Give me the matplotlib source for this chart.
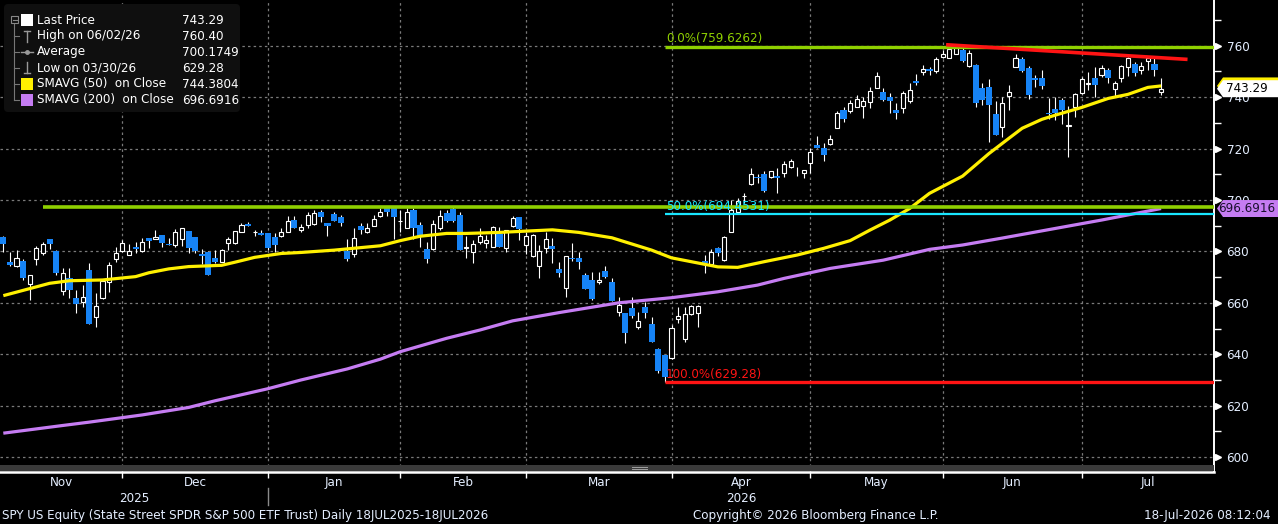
import numpy as np
import pandas as pd
import matplotlib
matplotlib.use('Agg')
import matplotlib.pyplot as plt
from matplotlib.patches import Rectangle, FancyBboxPatch, Polygon
from matplotlib.ticker import MultipleLocator

plt.rcParams['font.family'] = ['DejaVu Sans']
plt.rcParams['font.stretch'] = 'condensed'

# --- data -----------------------------------------------------------------
holidays = ['2025-11-27', '2025-12-25', '2026-01-01', '2026-01-19', '2026-02-16',
            '2026-04-03', '2026-05-25', '2026-06-19', '2026-07-03']
dates = pd.bdate_range('2025-11-03', '2026-07-17')
dates = dates[~dates.isin(pd.to_datetime(holidays))]

opens = [685.5, 675.9, 674.5, 676.3, 667.4, 676.9, 679.5, 684.8, 680.2, 664.7,
         669.5, 661.9, 660.5, 672.8, 654.6, 662.0, 668.2, 677.1, 680.3, 678.5,
         681.7, 680.3, 685.2, 685.0, 686.4, 683.0, 682.4, 684.7, 687.9, 685.6,
         679.0, 679.8, 677.4, 676.0, 683.4, 683.4, 687.7, 690.7, 687.4, 687.2,
         687.2, 685.6, 686.1, 687.7, 692.2, 688.4, 690.3, 690.5, 695.2, 691.0,
         694.5, 693.2, 680.3, 678.9, 689.9, 687.7, 690.0, 693.9, 696.7, 696.7,
         691.7, 689.2, 696.1, 690.3, 680.9, 680.9, 689.2, 694.8, 696.5, 694.2,
         681.5, 679.9, 683.8, 683.4, 681.8, 686.6, 681.4, 689.9, 693.4, 682.5,
         678.2, 674.5, 681.2, 682.1, 673.1, 665.9, 677.6, 677.3, 670.8, 668.9,
         668.0, 672.4, 668.0, 656.5, 655.9, 657.8, 650.7, 658.2, 651.8, 641.9,
         639.7, 638.4, 653.6, 645.8, 655.5, 656.2, 676.4, 675.0, 681.2, 676.6,
         687.4, 695.4, 701.5, 706.1, 709.1, 710.1, 709.1, 709.3, 710.6, 713.0,
         711.7, 710.6, 714.5, 721.4, 720.3, 721.6, 728.1, 735.0, 734.7, 736.3,
         736.7, 738.2, 743.7, 742.1, 740.2, 735.0, 735.6, 738.6, 746.3, 749.9,
         750.9, 750.3, 755.7, 755.3, 756.8, 758.3, 752.2, 752.5, 743.4, 743.8,
         733.4, 728.5, 740.6, 751.8, 754.8, 751.2, 747.6, 747.6, 733.8, 735.4,
         738.9, 728.9, 736.3, 741.5, 745.0, 747.3, 748.6, 750.6, 743.0, 747.3,
         751.8, 752.9, 750.5, 754.2, 752.9, 742.1]
highs = [686.0, 679.9, 680.5, 676.9, 670.7, 682.1, 683.8, 685.0, 680.5, 673.4,
         673.4, 665.0, 666.9, 675.6, 664.0, 668.5, 675.9, 681.7, 684.4, 682.9,
         683.7, 685.1, 685.2, 688.3, 686.4, 685.3, 688.6, 689.0, 688.0, 685.6,
         680.9, 680.2, 680.5, 680.9, 685.7, 688.0, 690.9, 691.4, 688.3, 688.3,
         687.2, 687.0, 689.0, 693.8, 693.8, 690.5, 695.4, 696.1, 696.1, 691.0,
         695.2, 694.2, 684.8, 689.0, 690.9, 690.9, 694.2, 696.7, 697.4, 697.4,
         696.1, 696.7, 696.7, 691.3, 683.8, 692.2, 696.1, 696.1, 697.4, 695.4,
         686.1, 684.4, 689.0, 686.4, 690.0, 689.6, 688.3, 693.9, 693.4, 687.7,
         686.6, 682.5, 687.4, 685.1, 676.0, 678.2, 683.4, 679.8, 671.5, 672.1,
         672.1, 674.3, 669.5, 662.4, 655.9, 662.1, 656.5, 660.4, 654.6, 642.3,
         639.7, 651.4, 658.5, 658.2, 659.1, 659.1, 678.6, 680.8, 681.8, 686.0,
         700.0, 700.6, 702.6, 712.3, 710.1, 711.3, 711.3, 712.3, 715.2, 715.8,
         713.0, 711.6, 720.1, 724.9, 722.0, 725.3, 734.7, 736.3, 738.9, 740.8,
         740.2, 744.1, 749.9, 743.4, 741.7, 737.6, 742.4, 745.4, 749.0, 752.5,
         751.8, 755.5, 758.3, 759.4, 760.4, 759.4, 758.3, 752.9, 745.6, 746.9,
         738.5, 740.2, 744.7, 756.8, 755.7, 752.1, 748.6, 750.6, 739.5, 739.9,
         739.5, 736.5, 741.5, 748.0, 749.9, 751.8, 752.5, 751.2, 746.3, 752.5,
         755.7, 753.8, 753.5, 755.1, 755.1, 747.3]
lows = [679.9, 674.5, 674.1, 668.9, 661.2, 674.7, 678.6, 680.9, 670.8, 663.0,
        661.7, 655.9, 658.5, 651.9, 650.7, 661.6, 664.3, 676.0, 679.9, 678.5,
        679.3, 679.6, 681.5, 684.7, 681.6, 682.6, 681.6, 682.2, 679.3, 679.3,
        675.1, 670.8, 675.4, 675.8, 680.5, 683.0, 687.4, 690.0, 686.1, 686.5,
        680.5, 679.9, 685.5, 687.4, 689.2, 687.7, 689.2, 690.3, 691.6, 686.1,
        691.8, 690.0, 676.4, 678.0, 686.8, 687.3, 690.0, 693.5, 693.9, 684.8,
        687.4, 689.0, 684.8, 681.6, 675.4, 680.5, 688.3, 691.6, 691.6, 680.5,
        677.6, 675.4, 682.7, 681.2, 681.8, 681.8, 679.9, 689.6, 684.4, 678.9,
        677.9, 669.5, 679.2, 675.6, 669.9, 662.4, 676.4, 673.1, 665.4, 661.1,
        667.2, 669.5, 660.8, 654.9, 644.5, 654.0, 649.7, 654.0, 644.6, 632.8,
        629.28, 638.0, 652.0, 644.9, 655.2, 650.7, 671.5, 674.7, 678.2, 676.4,
        687.4, 695.0, 698.7, 705.8, 706.5, 703.0, 708.4, 702.6, 709.1, 712.6,
        709.5, 708.7, 710.6, 720.3, 715.3, 721.4, 728.1, 730.2, 733.7, 736.0,
        732.0, 735.9, 743.4, 738.5, 733.7, 731.7, 734.0, 737.6, 744.7, 748.6,
        748.6, 749.5, 755.1, 755.1, 756.8, 753.8, 751.8, 736.0, 737.0, 722.7,
        725.3, 724.6, 735.0, 751.8, 749.9, 739.3, 744.1, 743.2, 731.7, 731.1,
        729.5, 716.8, 732.1, 741.2, 742.8, 740.2, 747.7, 745.6, 740.2, 746.0,
        748.3, 748.3, 749.0, 750.5, 748.2, 740.8]
closes = [683.0, 674.8, 677.3, 669.8, 670.7, 681.2, 682.9, 683.0, 671.7, 671.5,
          665.0, 659.7, 662.3, 651.9, 658.8, 668.5, 674.6, 679.4, 683.1, 680.2,
          681.1, 683.5, 684.2, 685.5, 683.4, 682.6, 687.4, 689.0, 681.5, 680.2,
          678.3, 670.8, 676.0, 680.5, 684.8, 687.8, 690.3, 690.0, 687.5, 686.5,
          681.5, 682.5, 687.4, 691.8, 689.2, 689.4, 694.2, 694.8, 693.5, 689.9,
          691.8, 691.2, 677.0, 685.3, 688.4, 689.2, 692.6, 695.2, 695.2, 693.5,
          691.9, 695.2, 689.2, 686.1, 677.0, 690.5, 693.8, 691.8, 691.8, 680.5,
          681.7, 682.7, 686.0, 684.4, 689.4, 681.8, 688.3, 692.9, 688.8, 685.9,
          686.4, 680.2, 684.8, 680.9, 671.7, 678.2, 676.9, 676.0, 665.4, 661.5,
          668.9, 670.2, 660.8, 659.1, 648.1, 655.0, 652.8, 656.1, 644.6, 633.6,
          631.3, 650.1, 654.9, 655.5, 658.7, 658.7, 675.6, 679.6, 679.3, 685.7,
          696.1, 699.7, 701.6, 710.1, 708.4, 703.5, 711.3, 708.4, 714.0, 715.2,
          711.5, 711.6, 718.5, 720.3, 717.5, 723.7, 733.7, 731.5, 737.6, 739.1,
          738.5, 742.4, 748.2, 738.9, 738.6, 733.7, 741.7, 742.8, 745.6, 750.9,
          750.3, 754.8, 756.8, 758.7, 759.4, 754.2, 757.0, 737.6, 738.9, 736.9,
          725.3, 737.6, 741.9, 755.1, 750.3, 740.8, 746.7, 744.5, 733.5, 733.7,
          735.0, 729.0, 741.1, 746.9, 745.7, 744.7, 751.2, 747.6, 745.4, 752.1,
          755.1, 749.3, 752.1, 755.1, 750.5, 743.29]

sma50_idx = [0, 7, 10, 15, 20, 22, 25, 28, 33, 35, 38, 42, 45, 50, 57, 60, 63, 67, 70,
             75, 83, 87, 92, 95, 98, 101, 104, 108, 111, 115, 120, 124, 128, 131, 134,
             137, 140, 145, 149, 152, 154, 157, 159, 163, 167, 170, 173, 175]
sma50_val = [662.8, 667.6, 668.6, 668.9, 670.2, 671.7, 673.2, 674.1, 674.6, 675.8,
             677.7, 679.2, 679.6, 680.5, 682.2, 684.2, 685.9, 687.0, 687.0, 687.4,
             688.4, 687.4, 685.3, 682.9, 680.5, 677.5, 676.0, 674.0, 673.8, 676.0,
             678.6, 681.2, 684.2, 688.3, 692.2, 696.7, 702.6, 709.3, 718.1, 724.0,
             727.9, 731.4, 733.0, 736.0, 739.5, 741.1, 743.8, 744.38]
sma200_idx = [0, 9, 13, 21, 28, 32, 40, 45, 52, 57, 60, 67, 72, 77, 84, 93, 101, 108,
              114, 118, 125, 133, 140, 145, 151, 166, 175]
sma200_val = [609.3, 612.3, 613.6, 616.4, 619.3, 621.9, 626.6, 630.0, 634.3, 638.1,
              641.0, 646.2, 649.4, 653.0, 656.2, 660.0, 662.0, 664.3, 666.9, 669.5,
              673.4, 676.6, 680.8, 682.5, 685.2, 692.2, 696.69]

fib_start = 100           # Mar 30 low
fib_levels = [759.6262, 694.4531, 629.28]
fib_labels = ['0.0%(759.6262)', '50.0%(694.4531)', '100.0%(629.28)']
hline_start, hline_val = 6, 697.3
trend_x, trend_y = [142.5, 179.0], [760.4, 754.7]

legend_rows = ['Last Price', 'High on 06/02/26', 'Average', 'Low on 03/30/26',
               'SMAVG (50)  on Close', 'SMAVG (200)  on Close']
legend_vals = ['743.29', '760.40', '700.1749', '629.28', '744.3804', '696.6916']
last_price, sma50_last, sma200_last = 743.29, 744.3804, 696.6916

BLUE = '#1683f5'
YELLOW = '#fff000'
PURPLE = '#c57cf2'
GREEN = '#8fd000'
CYAN = '#19e6ff'
RED = '#ff1414'
TXT = '#e4eeff'
GRID = '#7a7a7a'

W, H = 1278, 524
AX_BOTTOM = 472   # pixel row of the x axis line
AX_RIGHT = 1214

o = np.array(opens); h = np.array(highs); l = np.array(lows); c = np.array(closes)
x = np.arange(len(dates))
up = c >= o

fig = plt.figure(figsize=(W / 100, H / 100), dpi=100, facecolor='black')
ax = fig.add_axes([0, (H - AX_BOTTOM) / H, AX_RIGHT / W, AX_BOTTOM / H], facecolor='black')
ax.set_xlim(-0.5, 183.0)
ax.set_ylim(594.2, 777.8)

def fy(ypx):
    return (AX_BOTTOM - ypx) / AX_BOTTOM

# month boundaries (last trading day of each month)
month = dates.to_period('M')
ends = [i for i in range(len(dates) - 1) if month[i] != month[i + 1]]
bounds = [ax.get_xlim()[0]] + ends + [ax.get_xlim()[1]]
centers = [(bounds[i] + bounds[i + 1]) / 2 for i in range(len(bounds) - 1)]
mnames = [d.strftime('%b') for d in month.unique().to_timestamp()]

# grid
ax.set_yticks(range(600, 761, 20))
ax.yaxis.set_minor_locator(MultipleLocator(10))
ax.set_xticks(centers)
ax.set_xticklabels(mnames)
ax.set_xticks(ends, minor=True)
ax.grid(True, which='major', axis='y', color=GRID, ls=(0, (2, 2.5)), lw=0.9)
ax.grid(True, which='minor', axis='x', color=GRID, ls=(0, (2, 2.5)), lw=0.9)

# candles
ax.vlines(x, l, h, color='white', lw=0.8, zorder=3)
dn = ~up
ax.bar(x[dn], np.maximum(o[dn] - c[dn], 0.35), bottom=c[dn], width=0.92,
       color=BLUE, lw=0, zorder=4)
ax.bar(x[up], np.maximum(c[up] - o[up], 0.2), bottom=o[up], width=0.62,
       facecolor='black', edgecolor='white', lw=0.8, zorder=4)

# moving averages
ax.plot(sma200_idx, sma200_val, color=PURPLE, lw=2.3, zorder=5, solid_capstyle='butt')
ax.plot(sma50_idx, sma50_val, color=YELLOW, lw=2.3, zorder=5, solid_capstyle='butt')

# annotations
ax.hlines(hline_val, hline_start, 183, color=GREEN, lw=2.6, zorder=6)
fib_colors = [GREEN, CYAN, RED]
fib_lw = [2.4, 1.6, 2.4]
for lev, lab, col, lw in zip(fib_levels, fib_labels, fib_colors, fib_lw):
    ax.hlines(lev, fib_start, 183, color=col, lw=lw, zorder=6)
    ax.text(fib_start + 0.15, lev + 0.5, lab, color=col, fontsize=9.5,
            va='bottom', ha='left', zorder=7)
ax.plot(trend_x, trend_y, color=RED, lw=2.6, zorder=6, solid_capstyle='butt')

# axes styling
for s in ['left', 'top']:
    ax.spines[s].set_visible(False)
ax.spines['right'].set_color('white')
ax.spines['right'].set_linewidth(1.4)
ax.spines['bottom'].set_color('white')
ax.spines['bottom'].set_linewidth(1.8)
ax.yaxis.tick_right()
ax.tick_params(axis='y', which='major', length=0, pad=9, labelsize=9.5, labelcolor=TXT)
ax.tick_params(axis='y', which='minor', length=5, width=1, color='white')
ax.tick_params(axis='x', which='major', length=0, pad=3, labelsize=9.5, labelcolor=TXT)
ax.tick_params(axis='x', which='minor', length=4, width=1, color='white')
ax.plot([1 + 3.5 / AX_RIGHT] * 9, range(600, 761, 20), ls='none', marker='>', ms=5,
        color='white', transform=ax.get_yaxis_transform(), clip_on=False)

# year labels and divider
xt = ax.get_xaxis_transform()
ax.text((bounds[0] + ends[1]) / 2, fy(498), '2025', transform=xt, ha='center',
        va='center', color=TXT, fontsize=9.5)
ax.text((ends[1] + bounds[-1]) / 2, fy(498), '2026', transform=xt, ha='center',
        va='center', color=TXT, fontsize=9.5)
ax.plot([ends[1], ends[1]], [fy(488), fy(505)], transform=xt, color='#8a8a8a',
        lw=1, clip_on=False)

# price tags on the right
yt = ax.get_yaxis_transform()
def tag(val, fc, tc, label=None, z=20):
    x0 = 1 + 3 / AX_RIGHT
    x1 = 1 + 9 / AX_RIGHT
    x2 = W / AX_RIGHT
    hh = 3.3
    poly = Polygon([(x0, val), (x1, val + hh), (x2, val + hh), (x2, val - hh), (x1, val - hh)],
                   closed=True, transform=yt, facecolor=fc, edgecolor='none',
                   clip_on=False, zorder=z)
    ax.add_patch(poly)
    if label:
        ax.text(1 + 33 / AX_RIGHT, val, label, transform=yt, ha='center', va='center',
                color=tc, fontsize=9.5, zorder=z + 1, clip_on=False)

tag(sma50_last, YELLOW, 'black', None, z=20)
tag(last_price, 'white', 'black', f'{last_price:.2f}', z=22)
tag(sma200_last, PURPLE, '#1a0f2e', f'{sma200_last:.4f}', z=22)

# overlay in pixel coordinates
ov = fig.add_axes([0, 0, 1, 1], facecolor='none', zorder=10)
ov.set_xlim(0, W)
ov.set_ylim(H, 0)
ov.axis('off')

# scroll bar
ov.add_patch(Rectangle((0, 465), AX_RIGHT, 6, facecolor='#3a3a3a', edgecolor='none'))
ov.plot([632, 647], [467, 467], color='#a0a0a0', lw=0.7)
ov.plot([632, 647], [469, 469], color='#a0a0a0', lw=0.7)

# legend box
ov.add_patch(FancyBboxPatch((4, 4), 236, 108, boxstyle='round,pad=0,rounding_size=4',
                            facecolor='#0f0f0f', edgecolor='none'))
rows_y = [20, 36, 52, 68, 84, 100]
ov.plot([14, 14], [24, 100], color='#777777', lw=0.8)
for yy in rows_y[1:]:
    ov.plot([14, 19], [yy, yy], color='#777777', lw=0.8)
ov.add_patch(Rectangle((11, 16), 7, 7, facecolor='none', edgecolor='#888888', lw=0.8))
ov.plot([12.5, 16.5], [19.5, 19.5], color='#888888', lw=0.8)
ov.add_patch(Rectangle((21, 14), 12, 12, facecolor='white', edgecolor='none'))
ov.plot([27, 27], [31, 42], color='#999999', lw=1)
ov.plot([24, 30], [31, 31], color='#999999', lw=1)
ov.plot([21, 33], [52, 52], color='#999999', lw=1)
ov.plot([27], [52], marker='o', ms=2.5, color='#999999')
ov.plot([27, 27], [62, 73], color='#999999', lw=1)
ov.plot([24, 30], [73, 73], color='#999999', lw=1)
ov.add_patch(Rectangle((21, 78), 12, 12, facecolor=YELLOW, edgecolor='none'))
ov.add_patch(Rectangle((21, 94), 12, 12, facecolor=PURPLE, edgecolor='none'))
for yy, name, val in zip(rows_y, legend_rows, legend_vals):
    ov.text(37, yy, name, color='white', fontsize=9.5, va='center', ha='left')
    ov.text(182, yy, val, color='white', fontsize=9.5, va='center', ha='left')

# footer
ov.text(2, 515, 'SPY US Equity (State Street SPDR S&P 500 ETF Trust) Daily 18JUL2025-18JUL2026',
        color=TXT, fontsize=9.5, va='center', ha='left')
ov.text(816, 515, 'Copyright\u00a9 2026 Bloomberg Finance L.P.', color=TXT, fontsize=9.5,
        va='center', ha='center')
ov.text(1270, 515, '18-Jul-2026 08:12:04', color=TXT, fontsize=9.5, va='center', ha='right')

fig.savefig('out.png', dpi=100, facecolor='black')
